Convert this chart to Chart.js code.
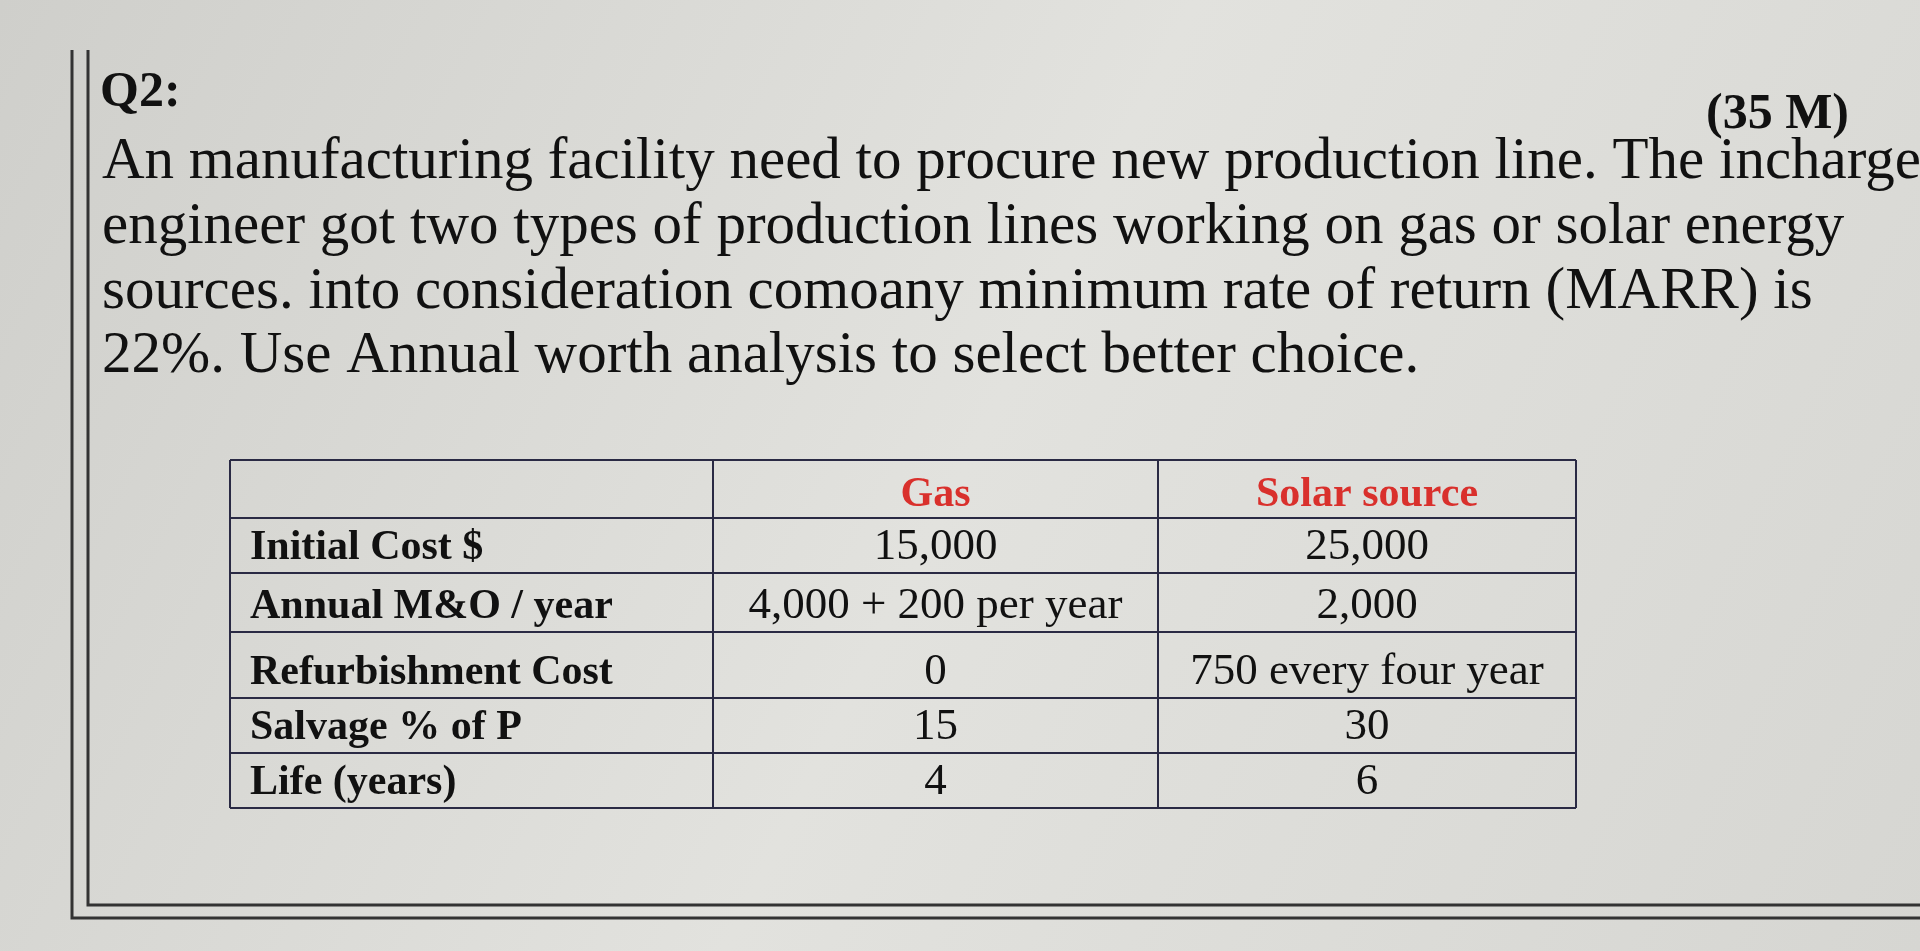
<!DOCTYPE html>
<html>
<head>
<meta charset="utf-8">
<script src="https://cdn.jsdelivr.net/npm/chart.js@4.4.1/dist/chart.umd.min.js"></script>
<style>
html,body{margin:0;padding:0;background:#d8d8d4;overflow:hidden}
#wrap{width:1920px;height:951px}
</style>
</head>
<body>
<div id="wrap"><canvas id="c" width="1920" height="951"></canvas></div>
<script>
const title = 'Q2:';
const marks = '(35 M)';
const paragraph = [
    'An manufacturing facility need to procure new production line. The incharge',
    'engineer got two types of production lines working on gas or solar energy',
    'sources. into consideration comoany minimum rate of return (MARR) is',
    '22%. Use Annual worth analysis to select better choice.'
];
const headers = ['', 'Gas', 'Solar source'];
const rowLabels = ['Initial Cost $', 'Annual M&O / year', 'Refurbishment Cost', 'Salvage % of P', 'Life (years)'];
const gasValues = ['15,000', '4,000 + 200 per year', '0', '15', '4'];
const solarValues = ['25,000', '2,000', '750 every four year', '30', '6'];

// draws the page text and the table on the chart canvas
const sheetPlugin = {
    id: 'sheet',
    beforeDraw(chart) {
        const ctx = chart.ctx;
        const g = ctx.createLinearGradient(0, 0, 1920, 951);
        g.addColorStop(0, '#cfcfcb');
        g.addColorStop(0.5, '#e2e2de');
        g.addColorStop(1, '#d6d6d2');
        ctx.fillStyle = g;
        ctx.fillRect(0, 0, 1920, 951);
        // page frame
        ctx.strokeStyle = '#333';
        ctx.lineWidth = 3;
        ctx.beginPath();
        ctx.moveTo(72, 50); ctx.lineTo(72, 918); ctx.lineTo(1920, 918);
        ctx.moveTo(88, 50); ctx.lineTo(88, 905); ctx.lineTo(1920, 905);
        ctx.stroke();
    },
    afterDraw(chart) {
        const ctx = chart.ctx;
        ctx.save();
        ctx.fillStyle = '#111';
        ctx.textBaseline = 'alphabetic';
        ctx.font = 'bold 50px "Liberation Serif"';
        ctx.fillText(title, 100, 106);
        ctx.textAlign = 'right';
        ctx.fillText(marks, 1849, 128);
        ctx.textAlign = 'left';
        ctx.font = '59px "Liberation Serif"';
        const base = [178, 243, 308, 372];
        paragraph.forEach((line, i) => ctx.fillText(line, 102, base[i]));

        // table
        const cols = [230, 713, 1158, 1576];
        const rows = [460, 518, 573, 632, 698, 753, 808];
        ctx.strokeStyle = '#2a2a44';
        ctx.lineWidth = 2;
        rows.forEach(y => { ctx.beginPath(); ctx.moveTo(cols[0], y); ctx.lineTo(cols[3], y); ctx.stroke(); });
        cols.forEach(x => { ctx.beginPath(); ctx.moveTo(x, rows[0]); ctx.lineTo(x, rows[6]); ctx.stroke(); });
        ctx.font = 'bold 42px "Liberation Serif"';
        ctx.textAlign = 'center';
        ctx.fillStyle = '#d9302c';
        ctx.fillText(headers[1], (cols[1] + cols[2]) / 2, rows[1] - 12);
        ctx.fillText(headers[2], (cols[2] + cols[3]) / 2, rows[1] - 12);
        ctx.fillStyle = '#111';
        rowLabels.forEach((lab, i) => {
            const y = rows[i + 2] - 14;
            ctx.textAlign = 'left';
            ctx.font = 'bold 42px "Liberation Serif"';
            ctx.fillText(lab, cols[0] + 20, y);
            ctx.textAlign = 'center';
            ctx.font = '45px "Liberation Serif"';
            ctx.fillText(gasValues[i], (cols[1] + cols[2]) / 2, y);
            ctx.fillText(solarValues[i], (cols[2] + cols[3]) / 2, y);
        });
        ctx.restore();
    }
};

new Chart(document.getElementById('c'), {
    type: 'bar',
    data: { labels: rowLabels, datasets: [{ data: [], label: 'sheet' }] },
    options: {
        responsive: false,
        animation: false,
        events: [],
        plugins: { legend: { display: false }, tooltip: { enabled: false } },
        scales: { x: { display: false }, y: { display: false } }
    },
    plugins: [sheetPlugin]
});
</script>
</body>
</html>
